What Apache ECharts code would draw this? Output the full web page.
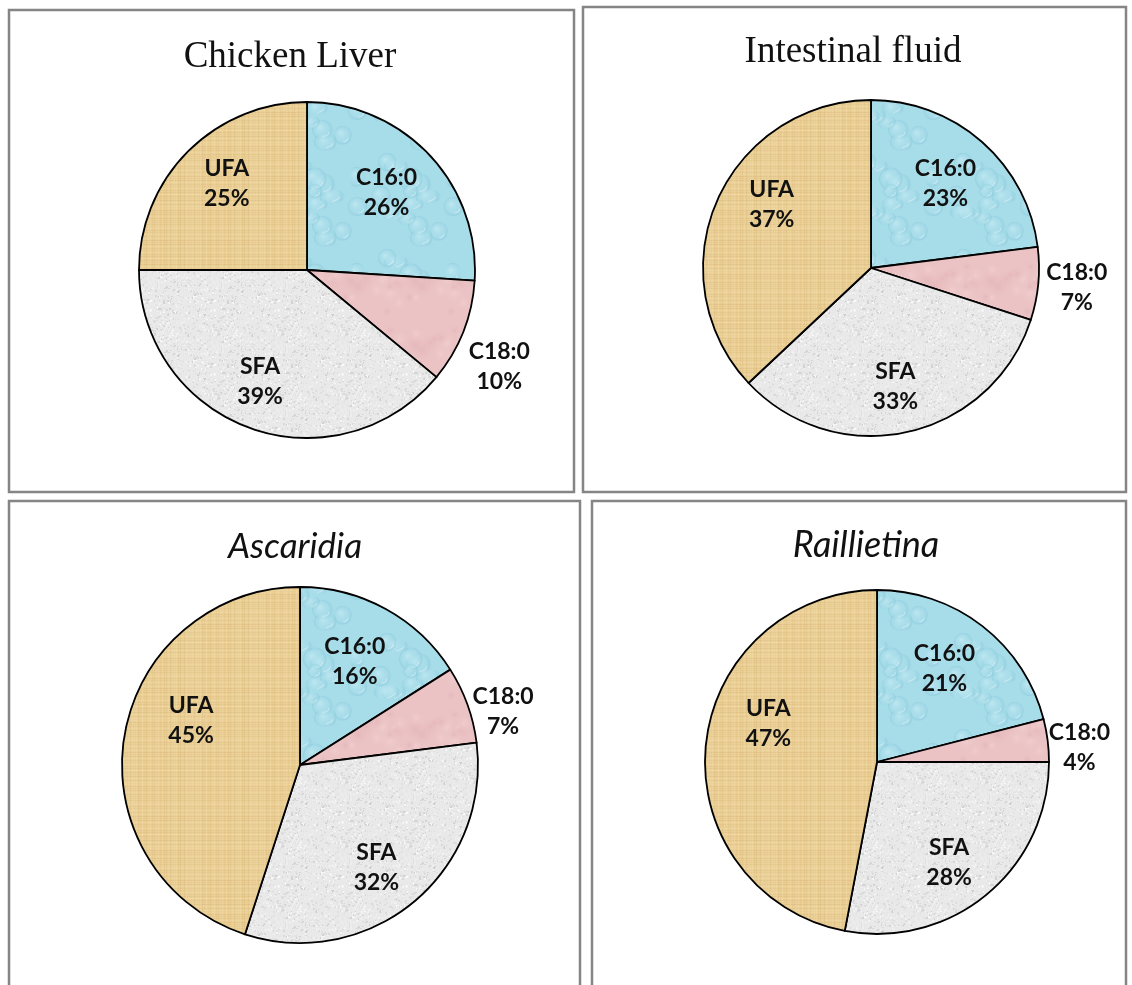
<!DOCTYPE html>
<html>
<head>
<meta charset="utf-8">
<script src="https://cdn.jsdelivr.net/npm/echarts@6/dist/echarts.min.js"></script>
<style>
  html, body { margin: 0; padding: 0; background: #ffffff; }
  #chart { width: 1132px; height: 985px; }
</style>
</head>
<body>
<div id="chart"></div>
<script>
// Fatty-acid composition (%) of each sample
const categories = ['C16:0', 'C18:0', 'SFA', 'UFA'];
const chickenLiver = [26, 10, 39, 25];
const intestinalFluid = [23, 7, 33, 37];
const ascaridia = [16, 7, 32, 45];
const raillietina = [21, 4, 28, 47];
const panelTitles = ['Chicken Liver', 'Intestinal fluid', 'Ascaridia', 'Raillietina'];

// Panel geometry: frame box, pie centre/radius, title placement and
// label spots given as [fraction of radius, angle shift in degrees].
const serifTitle = { fontFamily: '"Liberation Serif", "Times New Roman", serif', fontStyle: 'normal', fontSize: 37 };
const italicTitle = { fontFamily: 'Lato, "Open Sans", sans-serif', fontStyle: 'italic', fontSize: 35 };
const panels = [
  { values: chickenLiver, box: [9, 10, 574, 492], center: [307, 270], radius: 168,
    titleX: 290, titleY: 39, titleFont: serifTitle,
    spots: [[0.66, -1], [1.28, 5], [0.72, 3], [0.70, 2]] },
  { values: intestinalFluid, box: [583, 7, 1126, 492], center: [871, 268], radius: 168,
    titleX: 853, titleY: 34, titleFont: serifTitle,
    spots: [[0.67, 0], [1.23, 0], [0.72, 1], [0.70, 9]] },
  { values: ascaridia, box: [9, 501, 580, 990], center: [300, 765], radius: 178,
    titleX: 295, titleY: 529, titleFont: italicTitle,
    spots: [[0.66, -1], [1.18, 5], [0.72, 3], [0.66, 13]] },
  { values: raillietina, box: [592, 501, 1126, 990], center: [877, 762], radius: 172,
    titleX: 866, titleY: 527, titleFont: Object.assign({}, italicTitle, { fontSize: 36 }),
    spots: [[0.67, -2], [1.18, 3], [0.72, 4], [0.67, 14]] }
];

// ---- slice textures -------------------------------------------------------
function seeded(seed) {
  let s = seed >>> 0;
  return function () {
    s = (Math.imul(s, 1664525) + 1013904223) >>> 0;
    return s / 4294967296;
  };
}
function makeCanvas(w, h) {
  const c = document.createElement('canvas');
  c.width = w; c.height = h;
  return c;
}
function wrapDraw(w, h, x, y, pad, fn) {
  for (const dx of [-w, 0, w]) for (const dy of [-h, 0, h]) {
    if (x + dx + pad < 0 || x + dx - pad > w || y + dy + pad < 0 || y + dy - pad > h) continue;
    fn(x + dx, y + dy);
  }
}
function dropletTexture() {
  const w = 96, h = 96, c = makeCanvas(w, h), g = c.getContext('2d'), rnd = seeded(11);
  g.fillStyle = '#a7dce9'; g.fillRect(0, 0, w, h);
  for (let i = 0; i < 16; i++) {
    const x = rnd() * w, y = rnd() * h, rx = 7 + rnd() * 8, ry = 6 + rnd() * 7;
    wrapDraw(w, h, x, y, 16, (px, py) => {
      const gr = g.createRadialGradient(px - rx * 0.25, py - ry * 0.3, 1, px, py, Math.max(rx, ry));
      gr.addColorStop(0, 'rgba(200,236,244,0.6)');
      gr.addColorStop(0.55, 'rgba(172,223,235,0.2)');
      gr.addColorStop(0.85, 'rgba(132,198,216,0.4)');
      gr.addColorStop(1, 'rgba(167,220,233,0)');
      g.fillStyle = gr;
      g.beginPath(); g.ellipse(px, py, rx, ry, 0, 0, Math.PI * 2); g.fill();
      g.strokeStyle = 'rgba(235,248,251,0.5)'; g.lineWidth = 1.1;
      g.beginPath(); g.ellipse(px + rx * 0.25, py + ry * 0.35, rx * 0.35, ry * 0.2, -0.5, 0, Math.PI * 0.8); g.stroke();
    });
  }
  return c;
}
function canvasTexture() {
  const w = 64, h = 64, c = makeCanvas(w, h), g = c.getContext('2d'), rnd = seeded(7);
  g.fillStyle = '#eacf96'; g.fillRect(0, 0, w, h);
  for (let y = 0; y < h; y += 2) {
    g.fillStyle = rnd() < 0.5 ? 'rgba(205,165,95,' + (0.08 + rnd() * 0.14) + ')' : 'rgba(248,228,180,' + (0.1 + rnd() * 0.2) + ')';
    g.fillRect(0, y, w, 1);
  }
  for (let x = 0; x < w; x += 2) {
    g.fillStyle = rnd() < 0.5 ? 'rgba(205,165,95,' + (0.06 + rnd() * 0.12) + ')' : 'rgba(248,228,180,' + (0.08 + rnd() * 0.18) + ')';
    g.fillRect(x, 0, 1, h);
  }
  return c;
}
function speckTexture() {
  const w = 64, h = 64, c = makeCanvas(w, h), g = c.getContext('2d'), rnd = seeded(3);
  g.fillStyle = '#e9e9e9'; g.fillRect(0, 0, w, h);
  for (let i = 0; i < 700; i++) {
    const v = Math.round(200 + rnd() * 55);
    g.fillStyle = 'rgba(' + v + ',' + v + ',' + v + ',0.7)';
    g.fillRect(Math.floor(rnd() * w), Math.floor(rnd() * h), 1 + Math.floor(rnd() * 2), 1 + Math.floor(rnd() * 2));
  }
  return c;
}
function blushTexture() {
  const w = 64, h = 64, c = makeCanvas(w, h), g = c.getContext('2d'), rnd = seeded(5);
  g.fillStyle = '#ebc3c5'; g.fillRect(0, 0, w, h);
  for (let i = 0; i < 18; i++) {
    const x = rnd() * w, y = rnd() * h, r = 5 + rnd() * 9, dark = rnd() < 0.5;
    wrapDraw(w, h, x, y, 14, (px, py) => {
      const gr = g.createRadialGradient(px, py, 0, px, py, r);
      gr.addColorStop(0, dark ? 'rgba(222,172,176,0.45)' : 'rgba(246,214,215,0.5)');
      gr.addColorStop(1, 'rgba(235,195,197,0)');
      g.fillStyle = gr;
      g.beginPath(); g.arc(px, py, r, 0, Math.PI * 2); g.fill();
    });
  }
  return c;
}
const sliceFills = [
  { image: dropletTexture(), repeat: 'repeat' },
  { image: blushTexture(), repeat: 'repeat' },
  { image: speckTexture(), repeat: 'repeat' },
  { image: canvasTexture(), repeat: 'repeat' }
];

// ---- chart ----------------------------------------------------------------
const chart = echarts.init(document.getElementById('chart'), null, { renderer: 'canvas' });

function labelSpot(panel, dataIndex) {
  const vals = panel.values;
  const total = vals.reduce((a, b) => a + b, 0);
  let before = 0;
  for (let i = 0; i < dataIndex; i++) before += vals[i];
  const mid = (before + vals[dataIndex] / 2) / total * 360;
  const spot = panel.spots[dataIndex];
  const ang = (mid + spot[1]) * Math.PI / 180;
  const dist = spot[0] * panel.radius;
  return {
    x: panel.center[0] + dist * Math.sin(ang),
    y: panel.center[1] - dist * Math.cos(ang)
  };
}

const series = panels.map((p) => ({
  type: 'pie',
  center: p.center,
  radius: p.radius,
  startAngle: 90,
  clockwise: true,
  animation: false,
  silent: true,
  avoidLabelOverlap: false,
  label: {
    show: true,
    position: 'inside',
    formatter: '{b}\n{c}%',
    fontFamily: 'Lato, "Open Sans", sans-serif',
    fontWeight: 'bold',
    fontSize: 23,
    lineHeight: 30,
    color: '#111111'
  },
  labelLine: { show: false },
  labelLayout: (params) => {
    const pos = labelSpot(p, params.dataIndex);
    return { x: pos.x, y: pos.y, align: 'center', verticalAlign: 'middle' };
  },
  itemStyle: { borderColor: '#000000', borderWidth: 1.8 },
  emphasis: { disabled: true },
  data: categories.map((name, i) => ({
    name: name,
    value: p.values[i],
    itemStyle: { color: sliceFills[i] }
  }))
}));

const titles = panels.map((p, i) => ({
  text: panelTitles[i],
  left: p.titleX,
  top: p.titleY,
  textAlign: 'center',
  padding: 0,
  textStyle: Object.assign({ color: '#111111', fontWeight: 'normal' }, p.titleFont)
}));

const frames = panels.map((p) => ({
  type: 'rect',
  silent: true,
  shape: { x: p.box[0], y: p.box[1], width: p.box[2] - p.box[0], height: p.box[3] - p.box[1] },
  style: { fill: 'none', stroke: '#858585', lineWidth: 2.5 }
}));

chart.setOption({
  backgroundColor: '#ffffff',
  animation: false,
  title: titles,
  graphic: frames,
  series: series
});
</script>
</body>
</html>
